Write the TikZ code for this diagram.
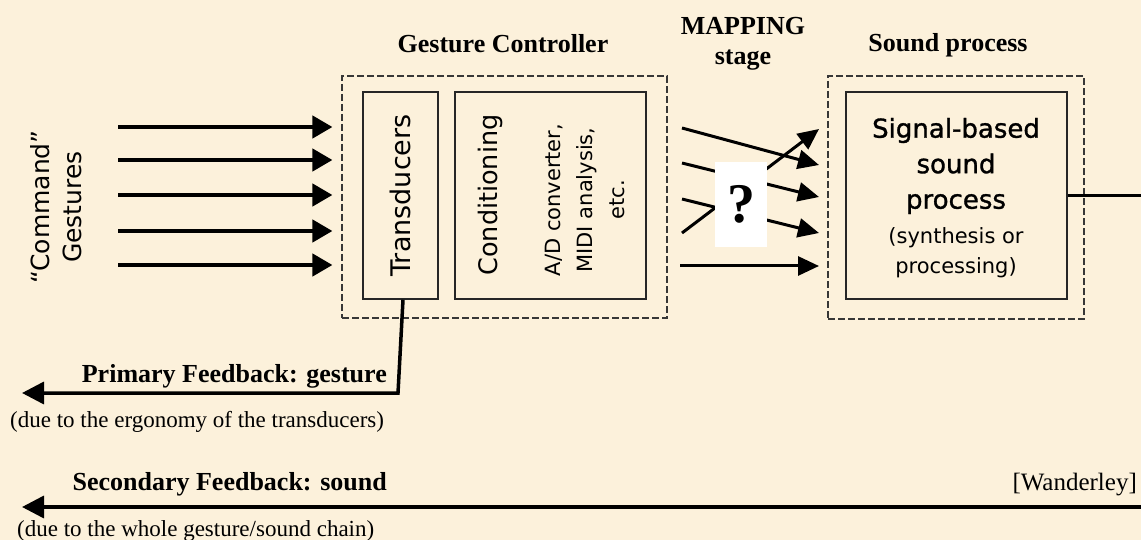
\documentclass[tikz,border=0pt]{standalone}
\usepackage{fontspec}
\setmainfont{Liberation Serif}
\setsansfont{DejaVu Sans}
\newfontfamily\sigfont{DejaVu Sans}[FakeBold=1.2]
\usetikzlibrary{arrows.meta,calc}
\definecolor{parch}{RGB}{252,241,219}
\definecolor{dashc}{RGB}{55,55,55}
\begin{document}
\begin{tikzpicture}[x=1pt,y=-1pt,
  dashbox/.style={draw=dashc,line width=1.1pt,dash pattern=on 7pt off 3pt,inner sep=0pt},
  solidbox/.style={draw=black!85,line width=1.5pt,inner sep=0pt},
  head/.style={font=\bfseries\fontsize{26}{30}\selectfont,anchor=base,inner sep=0pt},
  note/.style={font=\fontsize{23}{28}\selectfont,inner sep=0pt},
  inarrow/.style={line width=4.2pt,-{Triangle[length=20pt,width=22pt]}},
  maparrow/.style={line width=3pt,-{Triangle[length=21pt,width=19pt]}},
  fb/.style={line width=3.5pt,line join=miter,-{Triangle[length=22pt,width=22pt]}}]
\useasboundingbox (0,0) rectangle (1141,540);
\fill[parch] (0,0) rectangle (1141,540);
\clip (0,0) rectangle (1141,540);

% headings
\node[head] (gchead) at (503,53) {Gesture Controller};
\node[head] (maphead) at (743,35) {MAPPING};
\node[head] (stagehead) at (743,65) {stage};
\node[head] (sphead) at (948,52) {Sound process};

% gesture controller
\node[dashbox,minimum width=325pt,minimum height=242pt] (gc) at (504.5,197) {};
\node[solidbox,minimum width=75pt,minimum height=207pt] (trans) at (400.5,195.5) {};
\node[solidbox,minimum width=191pt,minimum height=207pt] (cond) at (550.5,195.5) {};
\node[rotate=90,font=\sffamily\fontsize{27}{30}\selectfont] (tlab) at (trans) {Transducers};
\node[rotate=90,font=\sffamily\fontsize{25.5}{30}\selectfont] (clab) at (490,195) {Conditioning};
\node[rotate=90,align=center,font=\sffamily\fontsize{21}{32}\selectfont] (adlab) at (585,200) {A/D converter,\\MIDI analysis,\\etc.};

% sound process
\node[dashbox,minimum width=256pt,minimum height=243pt] (sp) at (956,197.5) {};
\node[solidbox,minimum width=221pt,minimum height=207pt] (sig) at (956.5,195.5) {};
\node[align=center,font=\sigfont\fontsize{26}{35.5}\selectfont] (sigt) at (956,166) {Signal-based\\sound\\process};
\node[align=center,font=\sffamily\fontsize{21}{30}\selectfont] (synt) at (956,253) {(synthesis or\\processing)};

% command gestures
\node[rotate=90,align=center,font=\sffamily\fontsize{25}{32}\selectfont] (cmd) at (56,207) {“Command”\\Gestures};

% input arrows
\foreach \i/\yy in {1/127,2/160,3/195,4/231,5/265}{
  \coordinate (in\i) at (118,\yy);
  \draw[inarrow,shorten >=9pt] (in\i) -- (in\i -| gc.west);
}

% mapping arrows
\coordinate (m1s) at (682,128); \coordinate (m1e) at (819,165);
\coordinate (m2s) at (682,163); \coordinate (m2e) at (819,197);
\coordinate (m3s) at (682,199); \coordinate (m3e) at (819,233);
\coordinate (m4s) at (682,233); \coordinate (m4e) at (819,129);
\coordinate (m5s) at (680,266); \coordinate (m5e) at (819,266);
\foreach \i in {1,...,5}{\draw[maparrow] (m\i s) -- (m\i e);}
\node[fill=white,minimum width=52pt,minimum height=85pt,inner sep=0pt,font=\bfseries\fontsize{56}{56}\selectfont] (q) at (741,204.5) {?};

% primary feedback
\coordinate (pfc) at (398,393);
\coordinate (pftip) at (22,393);
\draw[fb] ($(trans.south)+(2.5,0)$) -- (pfc) -- (pftip);
\node[head,anchor=base east] (pflab) at (387,382) {Primary Feedback: gesture};
\node[note,anchor=base west] (pfnote) at (10,427) {(due to the ergonomy of the transducers)};

% secondary feedback
\coordinate (outc) at (1170,195.5);
\coordinate (outd) at (1170,507);
\coordinate (sftip) at (22,507);
\draw[fb] (sig.east) -- (outc) -- (outd) -- (sftip);
\node[head,anchor=base east] (sflab) at (387,490) {Secondary Feedback: sound};
\node[note,anchor=base west] (sfnote) at (17,536) {(due to the whole gesture/sound chain)};
\node[note,anchor=base east,font=\fontsize{25}{28}\selectfont] (wand) at (1137,490) {[Wanderley]};
\end{tikzpicture}
\end{document}
